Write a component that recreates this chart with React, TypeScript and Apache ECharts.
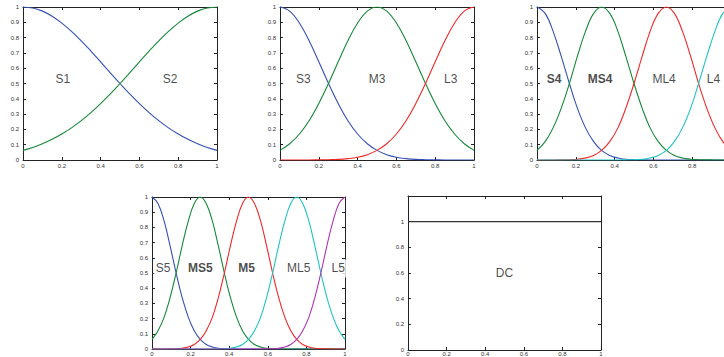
import React, { useEffect, useRef } from "react";
import * as echarts from "echarts";

// sample positions
const X21 = [0, 0.05, 0.1, 0.15, 0.2, 0.25, 0.3, 0.35, 0.4, 0.45, 0.5, 0.55, 0.6, 0.65, 0.7, 0.75, 0.8, 0.85, 0.9, 0.95, 1];
const X25 = [0, 0.042, 0.083, 0.125, 0.167, 0.208, 0.25, 0.292, 0.333, 0.375, 0.417, 0.458, 0.5, 0.542, 0.583, 0.625, 0.667, 0.708, 0.75, 0.792, 0.833, 0.875, 0.917, 0.958, 1];
const X33 = [0, 0.031, 0.063, 0.094, 0.125, 0.156, 0.188, 0.219, 0.25, 0.281, 0.313, 0.344, 0.375, 0.406, 0.438, 0.469, 0.5, 0.531, 0.563, 0.594, 0.625, 0.656, 0.688, 0.719, 0.75, 0.781, 0.813, 0.844, 0.875, 0.906, 0.938, 0.969, 1];

// panel 1
const S1 = [1, 0.993, 0.973, 0.94, 0.895, 0.841, 0.779, 0.712, 0.642, 0.57, 0.5, 0.432, 0.369, 0.31, 0.257, 0.21, 0.17, 0.135, 0.106, 0.082, 0.063];
const S2 = [0.063, 0.082, 0.106, 0.135, 0.17, 0.21, 0.257, 0.31, 0.369, 0.432, 0.5, 0.57, 0.642, 0.712, 0.779, 0.841, 0.895, 0.94, 0.973, 0.993, 1];

// panel 2
const S3 = [1, 0.973, 0.895, 0.779, 0.642, 0.5, 0.369, 0.257, 0.17, 0.106, 0.063, 0.035, 0.018, 0.009, 0.004, 0.002, 0.001, 0, 0, 0, 0];
const M3 = [0.063, 0.106, 0.17, 0.257, 0.369, 0.5, 0.642, 0.779, 0.895, 0.973, 1, 0.973, 0.895, 0.779, 0.642, 0.5, 0.369, 0.257, 0.17, 0.106, 0.063];
const L3 = [0, 0, 0, 0, 0.001, 0.002, 0.004, 0.009, 0.018, 0.035, 0.063, 0.106, 0.17, 0.257, 0.369, 0.5, 0.642, 0.779, 0.895, 0.973, 1];

// panel 3
const S4 = [1, 0.958, 0.841, 0.677, 0.5, 0.339, 0.21, 0.12, 0.063, 0.03, 0.013, 0.005, 0.002, 0.001, 0, 0, 0, 0, 0, 0, 0, 0, 0, 0, 0];
const MS4 = [0.063, 0.12, 0.21, 0.339, 0.5, 0.677, 0.841, 0.958, 1, 0.958, 0.841, 0.677, 0.5, 0.339, 0.21, 0.12, 0.063, 0.03, 0.013, 0.005, 0.002, 0.001, 0, 0, 0];
const ML4 = [0, 0, 0, 0.001, 0.002, 0.005, 0.013, 0.03, 0.063, 0.12, 0.21, 0.339, 0.5, 0.677, 0.841, 0.958, 1, 0.958, 0.841, 0.677, 0.5, 0.339, 0.21, 0.12, 0.063];
const L4 = [0, 0, 0, 0, 0, 0, 0, 0, 0, 0, 0, 0.001, 0.002, 0.005, 0.013, 0.03, 0.063, 0.12, 0.21, 0.339, 0.5, 0.677, 0.841, 0.958, 1];

// panel 4
const S5 = [1, 0.958, 0.841, 0.677, 0.5, 0.339, 0.21, 0.12, 0.063, 0.03, 0.013, 0.005, 0.002, 0.001, 0, 0, 0, 0, 0, 0, 0, 0, 0, 0, 0, 0, 0, 0, 0, 0, 0, 0, 0];
const MS5 = [0.063, 0.12, 0.21, 0.339, 0.5, 0.677, 0.841, 0.958, 1, 0.958, 0.841, 0.677, 0.5, 0.339, 0.21, 0.12, 0.063, 0.03, 0.013, 0.005, 0.002, 0.001, 0, 0, 0, 0, 0, 0, 0, 0, 0, 0, 0];
const M5 = [0, 0, 0, 0.001, 0.002, 0.005, 0.013, 0.03, 0.063, 0.12, 0.21, 0.339, 0.5, 0.677, 0.841, 0.958, 1, 0.958, 0.841, 0.677, 0.5, 0.339, 0.21, 0.12, 0.063, 0.03, 0.013, 0.005, 0.002, 0.001, 0, 0, 0];
const ML5 = [0, 0, 0, 0, 0, 0, 0, 0, 0, 0, 0, 0.001, 0.002, 0.005, 0.013, 0.03, 0.063, 0.12, 0.21, 0.339, 0.5, 0.677, 0.841, 0.958, 1, 0.958, 0.841, 0.677, 0.5, 0.339, 0.21, 0.12, 0.063];
const L5 = [0, 0, 0, 0, 0, 0, 0, 0, 0, 0, 0, 0, 0, 0, 0, 0, 0, 0, 0, 0.001, 0.002, 0.005, 0.013, 0.03, 0.063, 0.12, 0.21, 0.339, 0.5, 0.677, 0.841, 0.958, 1];

// panel 5
const DC_X = [0, 1];
const DC_Y = [1, 1];

// text labels (data coordinates)
const LABELS_1 = ["S1", "S2"];
const LABELS_1_X = [0.206, 0.758];
const LABELS_2 = ["S3", "M3", "L3"];
const LABELS_2_X = [0.12, 0.5, 0.88];
const LABELS_3 = ["S4", "MS4", "ML4", "L4"];
const LABELS_3_X = [0.088, 0.325, 0.655, 0.91];
const LABELS_4 = ["S5", "MS5", "M5", "ML5", "L5"];
const LABELS_4_X = [0.057, 0.25, 0.49, 0.76, 0.965];
const LABELS_5 = ["DC"];
const LABELS_5_X = [0.5];
const LABEL_Y = 0.53;
const LABEL_Y_DC = 0.6;
const BOLD_LABELS = ["S4", "MS4", "MS5", "M5"];
const BOXED_LABELS = ["S5", "L5"];

const BLUE = "#3550b5";
const GREEN = "#17883a";
const RED = "#f02828";
const CYAN = "#1ec4c4";
const PURPLE = "#b035b0";
const FONT = "'Liberation Sans', Arial, sans-serif";

const pairs = (xs: number[], ys: number[]) => xs.map((x, i) => [x, ys[i]]);

export default function App() {
  const ref = useRef<HTMLDivElement>(null);
  useEffect(() => {
    if (!ref.current) return;
    const chart = echarts.init(ref.current, null, { renderer: "svg" });

    const grids = [
      { left: 23, top: 7, width: 194, height: 153 },
      { left: 280, top: 7, width: 194, height: 153 },
      { left: 537, top: 7, width: 194, height: 153 },
      { left: 152, top: 197, width: 193, height: 152 },
      { left: 408, top: 196, width: 193, height: 154 },
    ];
    const yMax = [1, 1, 1, 1, 1.2];
    const yInt = [0.1, 0.1, 0.1, 0.1, 0.2];
    const xLabelMargin = [3, 3, 3, 2, 1];

    const axLine = { show: true, onZero: false, lineStyle: { color: "#222", width: 1 } };
    const axTick = { show: true, inside: true, length: 3, lineStyle: { color: "#222", width: 1 } };

    const xAxis: any[] = [];
    const yAxis: any[] = [];
    grids.forEach((_, i) => {
      xAxis.push({
        gridIndex: i, type: "value", min: 0, max: 1, interval: 0.2, position: "bottom",
        axisLine: axLine, axisTick: axTick, splitLine: { show: false },
        axisLabel: {
          fontSize: 6, color: "#333", margin: xLabelMargin[i], fontFamily: FONT,
          showMaxLabel: i !== 2,
        },
      });
      xAxis.push({
        gridIndex: i, type: "value", min: 0, max: 1, interval: 0.2, position: "top",
        axisLine: axLine, axisTick: axTick, splitLine: { show: false }, axisLabel: { show: false },
      });
      yAxis.push({
        gridIndex: i, type: "value", min: 0, max: yMax[i], interval: yInt[i], position: "left",
        axisLine: axLine, axisTick: axTick, splitLine: { show: false },
        axisLabel: {
          fontSize: 6, color: "#333", margin: 4, fontFamily: FONT,
          formatter: (v: number) => (v > 1.0001 ? "" : String(Math.round(v * 10) / 10)),
        },
      });
      yAxis.push({
        gridIndex: i, type: "value", min: 0, max: yMax[i], interval: yInt[i], position: "right",
        axisLine: axLine, axisTick: axTick, splitLine: { show: false }, axisLabel: { show: false },
      });
    });

    const line = (g: number, xs: number[], ys: number[], color: string) => ({
      type: "line", xAxisIndex: g * 2, yAxisIndex: g * 2, data: pairs(xs, ys),
      smooth: 0.4, symbol: "none", lineStyle: { color, width: 1.1 }, z: 3, silent: true,
    });

    const labels = (g: number, names: string[], xs: number[], y: number) => ({
      type: "scatter", xAxisIndex: g * 2, yAxisIndex: g * 2, symbolSize: 1, z: 5, silent: true,
      itemStyle: { color: "transparent" },
      data: names.map((n, i) => ({
        name: n, value: [xs[i], y],
        label: {
          show: true, position: "inside", formatter: n,
          fontSize: 12, fontFamily: FONT, color: "#1a1a1a",
          fontWeight: BOLD_LABELS.includes(n) ? "bold" : "normal",
          backgroundColor: BOXED_LABELS.includes(n) ? "#fff" : "transparent",
          padding: BOXED_LABELS.includes(n) ? [3, 2, 3, 2] : 0,
        },
      })),
    });

    const series: any[] = [
      line(0, X21, S1, BLUE), line(0, X21, S2, GREEN),
      line(1, X21, S3, BLUE), line(1, X21, M3, GREEN), line(1, X21, L3, RED),
      line(2, X25, S4, BLUE), line(2, X25, MS4, GREEN), line(2, X25, ML4, RED), line(2, X25, L4, CYAN),
      line(3, X33, S5, BLUE), line(3, X33, MS5, GREEN), line(3, X33, M5, RED), line(3, X33, ML5, CYAN), line(3, X33, L5, PURPLE),
      { ...line(4, DC_X, DC_Y, "#333"), smooth: false },
      labels(0, LABELS_1, LABELS_1_X, LABEL_Y),
      labels(1, LABELS_2, LABELS_2_X, LABEL_Y),
      labels(2, LABELS_3, LABELS_3_X, LABEL_Y),
      labels(3, LABELS_4, LABELS_4_X, LABEL_Y),
      labels(4, LABELS_5, LABELS_5_X, LABEL_Y_DC),
    ];

    chart.setOption({
      animation: false,
      backgroundColor: "#fff",
      textStyle: { fontFamily: FONT },
      grid: grids.map((g) => ({ ...g, show: false, containLabel: false, outerBoundsMode: "none" })),
      xAxis,
      yAxis,
      series,
    });
    return () => chart.dispose();
  }, []);

  return (
    <div
      ref={ref}
      style={{ position: "fixed", left: 0, top: 0, width: 724, height: 357, background: "#fff" }}
    />
  );
}
